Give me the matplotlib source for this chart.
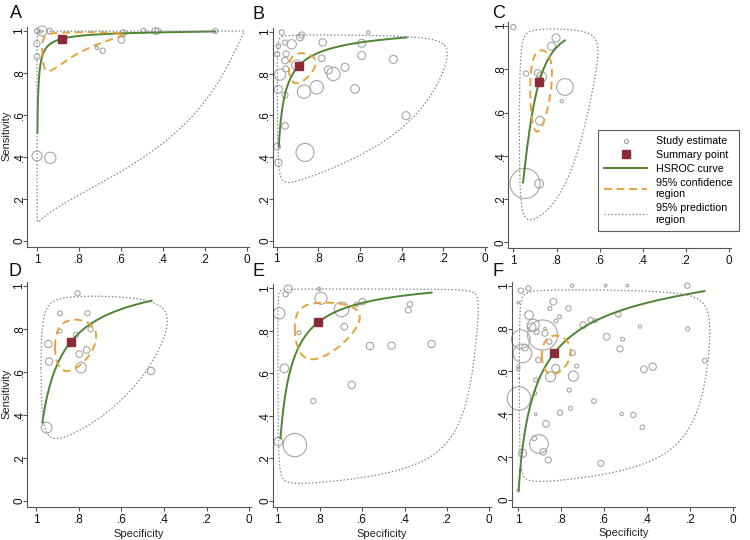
import numpy as np
import matplotlib
matplotlib.use("Agg")
import matplotlib.pyplot as plt
from matplotlib.lines import Line2D

plt.rcParams['font.family'] = ['Liberation Sans', 'DejaVu Sans']

# ---------------- data ----------------
# Panel A
spec_A = [0.976, 1.0, 0.984, 0.94, 1.0, 1.0, 1.0, 0.937, 0.714, 0.687, 0.598, 0.59, 0.492, 0.437, 0.425, 0.151]
sens_A = [1.0, 1.0, 0.997, 1.0, 0.94, 0.878, 0.405, 0.396, 0.919, 0.906, 0.957, 0.99, 1.0, 1.0, 1.0, 1.0]
wt_A = [100, 28, 11, 28, 36, 36, 100, 128, 11, 28, 44, 44, 28, 44, 36, 28]

# Panel B
spec_B = [0.976, 0.998, 0.992, 0.96, 0.928, 0.888, 0.88, 0.955, 0.96, 0.957, 0.984, 0.992, 0.96, 0.96,
          0.998, 0.992, 0.864, 0.869, 0.808, 0.779, 0.784, 0.752, 0.728, 0.672, 0.624, 0.592, 0.592,
          0.56, 0.44, 0.379, 0.904]
sens_B = [0.998, 0.893, 0.933, 0.949, 0.941, 0.974, 0.986, 0.895, 0.863, 0.823, 0.796, 0.725, 0.698, 0.55,
          0.45, 0.374, 0.423, 0.714, 0.735, 0.95, 0.874, 0.818, 0.799, 0.831, 0.727, 0.946, 0.887,
          0.998, 0.869, 0.599, 0.842]
wt_B = [28, 28, 22, 28, 87, 44, 36, 36, 44, 36, 128, 64, 36, 44, 44, 54, 324, 178, 178, 54, 44, 64, 178,
        64, 75, 64, 64, 11, 64, 64, 100]

# Panel C
spec_C = [1.0, 0.802, 0.823, 0.941, 0.887, 0.869, 0.877, 0.761, 0.776, 0.877, 0.946, 0.88]
sens_C = [0.995, 0.945, 0.906, 0.78, 0.783, 0.765, 0.745, 0.718, 0.652, 0.562, 0.272, 0.271]
wt_C = [28, 64, 64, 28, 44, 100, 64, 278, 11, 75, 900, 75]

# Panel D
spec_D = [0.805, 0.8875, 0.759, 0.8875, 0.8125, 0.744, 0.942, 0.7625, 0.797, 0.939, 0.789, 0.461, 0.95]
sens_D = [0.966, 0.873, 0.873, 0.79, 0.772, 0.798, 0.73, 0.702, 0.683, 0.648, 0.62, 0.604, 0.34]
wt_D = [28, 22, 28, 16, 28, 28, 54, 44, 44, 54, 114, 54, 114]

# Panel E
spec_E = [0.948, 0.961, 0.803, 0.991, 0.794, 0.697, 0.626, 0.599, 0.898, 0.684, 0.382, 0.374, 0.563,
          0.461, 0.272, 0.967, 0.649, 0.83, 0.995, 0.917]
sens_E = [0.997, 0.972, 0.997, 0.882, 0.953, 0.901, 0.925, 0.937, 0.791, 0.819, 0.898, 0.925, 0.728,
          0.73, 0.738, 0.623, 0.545, 0.469, 0.278, 0.262]
wt_E = [64, 28, 11, 128, 144, 215, 22, 44, 16, 44, 36, 28, 54, 54, 54, 75, 54, 28, 75, 544]

# Panel F
spec_F = [0.988, 0.953, 0.749, 0.594, 0.493, 0.214, 1.0, 0.837, 0.853, 0.767, 0.95, 0.809, 0.825, 0.93,
          0.938, 0.915, 0.887, 0.876, 0.988, 0.981, 0.969, 0.856, 0.698, 0.664, 0.643, 0.535, 0.434,
          0.589, 0.515, 0.527, 0.212, 0.133, 1.0, 1.0, 0.907, 0.826, 0.85, 0.747, 0.729, 0.744, 0.919,
          0.922, 0.997, 0.763, 0.648, 0.806, 0.757, 0.919, 0.519, 0.465, 0.416, 0.375, 0.423, 0.871,
          0.904, 0.926, 0.884, 0.86, 0.98, 0.616, 1.0, 0.99, 0.876]
sens_F = [0.977, 0.988, 1.0, 1.0, 1.0, 1.0, 0.921, 0.925, 0.894, 0.894, 0.863, 0.855, 0.835, 0.816,
          0.806, 0.785, 0.77, 0.778, 0.75, 0.684, 0.711, 0.739, 0.816, 0.84, 0.837, 0.866, 0.809,
          0.762, 0.75, 0.705, 0.798, 0.65, 0.622, 0.61, 0.653, 0.614, 0.575, 0.687, 0.625, 0.578, 0.56,
          0.498, 0.474, 0.513, 0.462, 0.407, 0.428, 0.4, 0.401, 0.397, 0.61, 0.622, 0.339, 0.355,
          0.261, 0.288, 0.225, 0.187, 0.218, 0.171, 0.044, 0.14, 0.8]
wt_F = [28, 28, 11, 7, 7, 28, 7, 44, 16, 28, 75, 16, 16, 144, 75, 28, 900, 36, 348, 348, 44, 28, 44, 28,
        16, 28, 11, 44, 16, 36, 16, 22, 11, 11, 28, 64, 100, 28, 16, 100, 16, 11, 544, 16, 22, 28, 16, 7,
        11, 28, 44, 54, 22, 44, 348, 22, 44, 36, 64, 36, 7, 7, 7]

# Summary estimates (specificity, sensitivity)
summary_spec = {'A': 0.881, 'B': 0.893, 'C': 0.880, 'D': 0.836, 'E': 0.807, 'F': 0.834}
summary_sens = {'A': 0.963, 'B': 0.839, 'C': 0.742, 'D': 0.741, 'E': 0.840, 'F': 0.684}
# 95% confidence region (logit half-widths spec, sens, correlation)
conf_sd_spec = {'A': 1.67, 'B': 0.65, 'C': 0.47, 'D': 0.695, 'E': 0.98, 'F': 0.48}
conf_sd_sens = {'A': 1.815, 'B': 0.53, 'C': 1.01, 'D': 0.63, 'E': 0.97, 'F': 0.42}
conf_rho = {'A': -0.51, 'B': -0.2, 'C': -0.2, 'D': -0.2, 'E': -0.2, 'F': -0.1}
# 95% prediction region
pred_sd_spec = {'A': 6.3, 'B': 3.63, 'C': 1.55, 'D': 2.1, 'E': 4.33, 'F': 3.71}
pred_sd_sens = {'A': 5.57, 'B': 2.6, 'C': 3.2, 'D': 1.95, 'E': 4.08, 'F': 3.13}
pred_rho = {'A': -0.5, 'B': -0.19, 'C': -0.3, 'D': -0.3, 'E': -0.16, 'F': -0.16}
# HSROC curve slope (logit scale) and specificity range
hsroc_slope = {'A': 0.76, 'B': 0.75, 'C': 1.9, 'D': 0.87, 'E': 0.92, 'F': 0.83}
hsroc_spec_lo = {'A': 0.151, 'B': 0.376, 'C': 0.761, 'D': 0.458, 'E': 0.272, 'F': 0.135}
hsroc_spec_hi = {'A': 0.998, 'B': 0.99, 'C': 0.955, 'D': 0.97, 'E': 0.985, 'F': 0.998}

studies = {'A': (spec_A, sens_A, wt_A), 'B': (spec_B, sens_B, wt_B), 'C': (spec_C, sens_C, wt_C),
           'D': (spec_D, sens_D, wt_D), 'E': (spec_E, sens_E, wt_E), 'F': (spec_F, sens_F, wt_F)}

tick_vals = [1, 0.8, 0.6, 0.4, 0.2, 0]
tick_labels = ["1", ".8", ".6", ".4", ".2", "0"]

# ---------------- styles ----------------
C_STUDY = '#a6a6a6'
C_SUM = '#8b2b35'
C_CURVE = '#4f8432'
C_CONF = '#e9a23b'
C_PRED = '#7d8994'


def logit(p):
    p = np.asarray(p, dtype=float)
    return np.log(p / (1 - p))


def expit(x):
    return 1 / (1 + np.exp(-x))


def region(sp, se, sx, sy, rho):
    t = np.linspace(0, 2 * np.pi, 800)
    x = logit(sp) + sx * np.cos(t)
    y = logit(se) + sy * np.cos(t + np.arccos(rho))
    return expit(x), expit(y)


W, H = 750, 540
fig = plt.figure(figsize=(W / 100, H / 100), dpi=100)

# pixel layout: spec=1 x, spec=0 x, sens=1 y, sens=0 y, left pad, bottom pad
layout = {
    'A': (37, 247, 31, 241, 10, 6),
    'B': (276.7, 485, 32, 240.7, 4, 6),
    'C': (513.3, 729.3, 26, 242.3, 5, 6),
    'D': (36, 249.3, 286, 500.7, 9, 6.5),
    'E': (277.3, 489.3, 288.3, 500.7, 4.6, 6.5),
    'F': (518.3, 733.3, 285.7, 500, 6.6, 7),
}
letter_pos = {'A': (10, 5), 'B': (253, 6), 'C': (492, 5), 'D': (8, 263), 'E': (253, 263), 'F': (492, 263)}

for key, (x1, x0, y1, y0, pl, pb) in layout.items():
    sx_px = x0 - x1
    sy_px = y0 - y1
    left = x1 - pl
    right = x0 + 2
    bottom = y0 + pb
    top = y1 - 4
    ax = fig.add_axes([left / W, 1 - bottom / H, (right - left) / W, (bottom - top) / H])
    ax.set_xlim(1 + pl / sx_px, -2 / sx_px)
    ax.set_ylim(-pb / sy_px, 1 + 4 / sy_px)
    ax.patch.set_alpha(0)

    sp, se, wt = studies[key]
    ax.scatter(sp, se, s=np.asarray(wt) * 0.52, facecolors='none', edgecolors=C_STUDY,
               linewidths=0.8, clip_on=False, zorder=2)

    # HSROC curve
    mx, my = logit(summary_spec[key]), logit(summary_sens[key])
    xs = np.linspace(logit(hsroc_spec_lo[key]), logit(hsroc_spec_hi[key]), 400)
    ys = my - hsroc_slope[key] * (xs - mx)
    ax.plot(expit(xs), expit(ys), color=C_CURVE, lw=1.4, zorder=3, clip_on=False)

    # confidence region
    cx, cy = region(summary_spec[key], summary_sens[key], conf_sd_spec[key], conf_sd_sens[key], conf_rho[key])
    ax.plot(cx, cy, color=C_CONF, lw=1.4, ls=(0, (4, 2.5)), zorder=4, clip_on=False)

    # prediction region
    px_, py_ = region(summary_spec[key], summary_sens[key], pred_sd_spec[key], pred_sd_sens[key], pred_rho[key])
    ax.plot(px_, py_, color=C_PRED, lw=0.9, ls=(0, (1.2, 1.6)), zorder=4, clip_on=False)

    # summary point
    ax.plot([summary_spec[key]], [summary_sens[key]], marker='s', ms=5.5, color=C_SUM,
            mec=C_SUM, ls='none', zorder=6, clip_on=False)

    for s in ['top', 'right']:
        ax.spines[s].set_visible(False)
    for s in ['left', 'bottom']:
        ax.spines[s].set_color('#555555')
        ax.spines[s].set_linewidth(0.8)
    ax.set_xticks(tick_vals)
    ax.set_xticklabels(tick_labels)
    ax.set_yticks(tick_vals)
    ax.set_yticklabels(tick_labels, rotation=90, va='center', ha='center')
    ax.tick_params(direction='out', length=2.8, width=0.8, color='#555555', labelsize=8.5,
                   labelcolor='#111111')
    ax.tick_params(axis='x', pad=2)
    ax.tick_params(axis='y', pad=2.6)

    if key in ('A', 'D'):
        fig.text(6 / W, 1 - ((y0 + y1) / 2) / H, 'Sensitivity', rotation=90, fontsize=8,
                 ha='center', va='center', color='#222222')
    if key in ('D', 'E', 'F'):
        ax.set_xlabel('Specificity', fontsize=8, labelpad=2, color='#222222')

    lx, ly = letter_pos[key]
    fig.text(lx / W, 1 - ly / H, key, fontsize=13, va='top', ha='left', color='#111111')

handles = [
    Line2D([], [], marker='o', ms=3, mfc='none', mec=C_STUDY, ls='none', mew=0.8),
    Line2D([], [], marker='s', ms=6, color=C_SUM, ls='none'),
    Line2D([], [], color=C_CURVE, lw=1.4),
    Line2D([], [], color=C_CONF, lw=1.4, ls=(0, (4, 2.5))),
    Line2D([], [], color=C_PRED, lw=0.9, ls=(0, (1.2, 1.6))),
]
labels = ['Study estimate', 'Summary point', 'HSROC curve', '95% confidence\nregion', '95% prediction\nregion']
leg = fig.legend(handles, labels, loc='upper left', bbox_to_anchor=(598 / W, 1 - 130 / H),
                 borderaxespad=0, fontsize=7.7, frameon=True, fancybox=False, handlelength=4,
                 handletextpad=0.8, borderpad=0.6, labelspacing=0.35)
leg.get_frame().set_edgecolor('#333333')
leg.get_frame().set_linewidth(0.8)

fig.savefig('out.png', dpi=100)
